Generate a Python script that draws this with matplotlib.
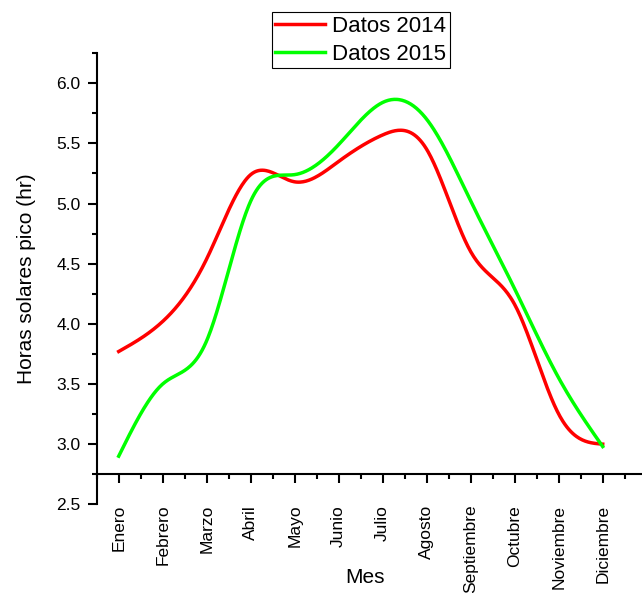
import numpy as np
import matplotlib
matplotlib.use('Agg')
import matplotlib.pyplot as plt
from matplotlib.ticker import MultipleLocator

plt.rcParams['font.family'] = ['Liberation Sans', 'DejaVu Sans']

meses = ['Enero', 'Febrero', 'Marzo', 'Abril', 'Mayo', 'Junio', 'Julio',
         'Agosto', 'Septiembre', 'Octubre', 'Noviembre', 'Diciembre']
datos_2014 = [3.77, 4.02, 4.54, 5.24, 5.18, 5.35, 5.57, 5.45, 4.60, 4.16, 3.25, 3.00]
datos_2015 = [2.90, 3.50, 3.86, 5.02, 5.24, 5.49, 5.84, 5.70, 5.02, 4.29, 3.55, 2.98]


def natural_spline(x, y, n=500):
    # cubic spline through the points, natural end conditions
    x = np.asarray(x, float)
    y = np.asarray(y, float)
    h = np.diff(x)
    m = len(x)
    A = np.zeros((m, m))
    b = np.zeros(m)
    A[0, 0] = A[-1, -1] = 1
    for i in range(1, m - 1):
        A[i, i - 1] = h[i - 1]
        A[i, i] = 2 * (h[i - 1] + h[i])
        A[i, i + 1] = h[i]
        b[i] = 3 * ((y[i + 1] - y[i]) / h[i] - (y[i] - y[i - 1]) / h[i - 1])
    c = np.linalg.solve(A, b)
    xs = np.linspace(x[0], x[-1], n)
    idx = np.clip(np.searchsorted(x, xs) - 1, 0, m - 2)
    dx = xs - x[idx]
    hi = h[idx]
    bc = (y[idx + 1] - y[idx]) / hi - hi * (2 * c[idx] + c[idx + 1]) / 3
    dc = (c[idx + 1] - c[idx]) / (3 * hi)
    ys = y[idx] + bc * dx + c[idx] * dx ** 2 + dc * dx ** 3
    return xs, ys


x = np.arange(1, len(meses) + 1)

fig = plt.figure(figsize=(6.42, 5.93), dpi=100)
ax = fig.add_axes([96.7 / 642, 1 - 504.3 / 593, 1 - 96.7 / 642, 451.2 / 593])

xs, ys = natural_spline(x, datos_2014)
ax.plot(xs, ys, color='#ff0000', lw=2.5, label='Datos 2014')
xs, ys = natural_spline(x, datos_2015)
ax.plot(xs, ys, color='#00ff00', lw=2.5, label='Datos 2015')

ax.set_xlim(0.5, 1 + (642 - 118.7) / 44)
ax.set_ylim(2.5, 6.25)

ax.spines['top'].set_visible(False)
ax.spines['right'].set_visible(False)
ax.spines['bottom'].set_position(('data', 2.75))
for s in ('left', 'bottom'):
    ax.spines[s].set_linewidth(1.5)

ax.set_xticks(x)
ax.set_xticklabels(meses, rotation=90)
ax.xaxis.set_minor_locator(MultipleLocator(0.5))
ax.yaxis.set_major_locator(MultipleLocator(0.5))
ax.yaxis.set_minor_locator(MultipleLocator(0.25))
ax.yaxis.set_major_formatter(plt.FormatStrFormatter('%.1f'))

ax.tick_params(axis='both', which='major', length=6.5, width=1.5, labelsize=12.5, direction='out')
ax.tick_params(axis='both', which='minor', length=3.6, width=1.5, direction='out')
ax.tick_params(axis='x', which='major', pad=15.5)
ax.tick_params(axis='y', which='major', pad=5)

ax.set_ylabel('Horas solares pico (hr)', fontsize=15)
ax.yaxis.set_label_coords(-0.111, 0.5)
ax.set_xlabel('Mes', fontsize=15)
ax.xaxis.label.set_va('center')
ax.xaxis.set_label_coords(0.492, -0.162)

leg = fig.legend(loc='upper left', bbox_to_anchor=(271.5 / 642, 1 - 12.3 / 593),
                 fontsize=16, frameon=True, fancybox=False, framealpha=1,
                 edgecolor='black', handlelength=2.25, handletextpad=0.34,
                 labelspacing=0.32, borderpad=0.15, borderaxespad=0)
leg.get_frame().set_linewidth(0.8)

fig.savefig('out.png', dpi=100)
